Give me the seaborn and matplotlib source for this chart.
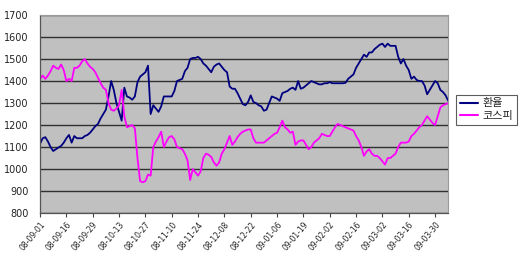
import numpy as np
import pandas as pd
import matplotlib
matplotlib.use("Agg")
import matplotlib.pyplot as plt
import seaborn as sns

tick_labels = ["08-09-01", "08-09-16", "08-09-29", "08-10-13", "08-10-27", "08-11-10",
               "08-11-24", "08-12-08", "08-12-22", "09-01-06", "09-01-19", "09-02-02",
               "09-02-16", "09-03-02", "09-03-16", "09-03-30"]

exchange_rate = [
    1115, 1140, 1145, 1125, 1100, 1082, 1090, 1098, 1105, 1120,
    1140, 1155, 1120, 1150, 1140, 1140, 1140, 1150, 1155, 1165,
    1180, 1195, 1205, 1230, 1250, 1270, 1330, 1400, 1360, 1300,
    1260, 1220, 1370, 1330, 1325, 1315, 1330, 1395, 1420, 1430,
    1440, 1470, 1250, 1290, 1275, 1260, 1285, 1330, 1330, 1330,
    1330, 1355, 1400, 1405, 1410, 1445, 1460, 1500, 1505, 1505,
    1510, 1500, 1480, 1470, 1455, 1440, 1465, 1475, 1480, 1465,
    1450, 1440, 1375, 1365, 1365, 1345, 1320, 1295, 1290, 1305,
    1335, 1305, 1300, 1290, 1285, 1265, 1270, 1300, 1330, 1325,
    1320, 1310, 1345, 1350, 1355, 1365, 1370, 1360, 1400, 1365,
    1370, 1380, 1390, 1400, 1395, 1390, 1385, 1385, 1390, 1390,
    1395, 1390, 1390, 1390, 1390, 1390, 1392, 1410, 1420, 1430,
    1460, 1480, 1500, 1520, 1510, 1530, 1530, 1545, 1555, 1565,
    1570, 1555, 1570, 1560, 1560, 1560, 1510, 1480, 1500, 1470,
    1450, 1410, 1420, 1405, 1400, 1400, 1380, 1340, 1360, 1380,
    1400, 1390, 1360, 1350, 1335, 1310,
]

kospi = [
    1410, 1425, 1410, 1425, 1445, 1470, 1460, 1455, 1475, 1450,
    1400, 1410, 1400, 1460, 1460, 1470, 1490, 1500, 1480, 1465,
    1455, 1440, 1415, 1390, 1370, 1360, 1300, 1270, 1265, 1275,
    1290, 1360, 1240, 1190, 1195, 1200, 1185, 1050, 945, 940,
    945, 975, 970, 1100, 1125, 1145, 1170, 1100, 1125, 1145,
    1150, 1135, 1100, 1095, 1090, 1070, 1040, 950, 1000, 985,
    970, 990, 1050, 1070, 1065, 1055, 1030, 1015, 1030, 1070,
    1090, 1120, 1150, 1110, 1125, 1145, 1160, 1170, 1175, 1180,
    1180, 1140, 1120, 1120, 1120, 1120, 1130, 1140, 1150, 1160,
    1165, 1190, 1220, 1190, 1180, 1165, 1170, 1110, 1125, 1130,
    1130, 1110, 1090, 1100, 1120, 1130, 1140, 1160, 1155, 1150,
    1150, 1170, 1190, 1205, 1200, 1195, 1190, 1185, 1180, 1175,
    1150, 1130, 1100, 1060, 1080, 1090, 1070, 1060, 1060, 1050,
    1035, 1020, 1050, 1050, 1060, 1070, 1100, 1120, 1120, 1120,
    1125, 1150, 1160, 1175, 1190, 1200, 1220, 1240, 1225, 1210,
    1200, 1240, 1280, 1290, 1295, 1300,
]

series_names = ["환율", "코스피"]
colors = ["#000080", "#FF00FF"]

n = len(exchange_rate)
df = pd.DataFrame({
    "idx": list(range(n)) * 2,
    "value": exchange_rate + kospi,
    "series": [series_names[0]] * n + [series_names[1]] * n,
})

sns.set_theme(style="white")
plt.rcParams["font.family"] = ["Noto Sans CJK KR", "DejaVu Sans"]

fig = plt.figure(figsize=(5.2, 2.64), dpi=100)
ax = fig.add_axes([0.077, 0.193, 0.785, 0.750])
ax.set_facecolor("#C0C0C0")

sns.lineplot(data=df, x="idx", y="value", hue="series", palette=colors,
             linewidth=1.3, ax=ax, legend=False)

ax.set_xlim(0, n - 1)
ax.set_ylim(800, 1700)
ax.set_yticks(range(800, 1701, 100))
ax.yaxis.grid(True, color="#303030", linewidth=1.0)
ax.set_axisbelow(True)
ax.set_xticks(range(0, 10 * len(tick_labels), 10))
ax.set_xticklabels(tick_labels, rotation=50, ha="right", rotation_mode="anchor",
                   fontsize=5.5, color="#222222", family="DejaVu Sans")
ax.tick_params(axis="y", labelsize=7, colors="#222222", length=0, pad=8)
ax.tick_params(axis="x", length=3, width=0.8, color="#444444", direction="out",
               bottom=True, pad=2)
ax.set_xlabel("")
ax.set_ylabel("")
for lab in ax.get_yticklabels():
    lab.set_family("DejaVu Sans")
for s in ["top", "right"]:
    ax.spines[s].set_color("#9a9a9a")
    ax.spines[s].set_linewidth(0.8)
for s in ["left", "bottom"]:
    ax.spines[s].set_color("#555555")
    ax.spines[s].set_linewidth(0.9)

handles = [plt.Line2D([], [], color=c, lw=1.5) for c in colors]
leg = fig.legend(handles, series_names, loc="center left",
                 bbox_to_anchor=(0.877, 0.585), fontsize=8, frameon=True,
                 fancybox=False, edgecolor="#333333", handlelength=1.6,
                 handletextpad=0.4, borderpad=0.35, labelspacing=0.2,
                 borderaxespad=0)
leg.get_frame().set_linewidth(0.8)

fig.savefig("out.png", dpi=100, facecolor="white")
